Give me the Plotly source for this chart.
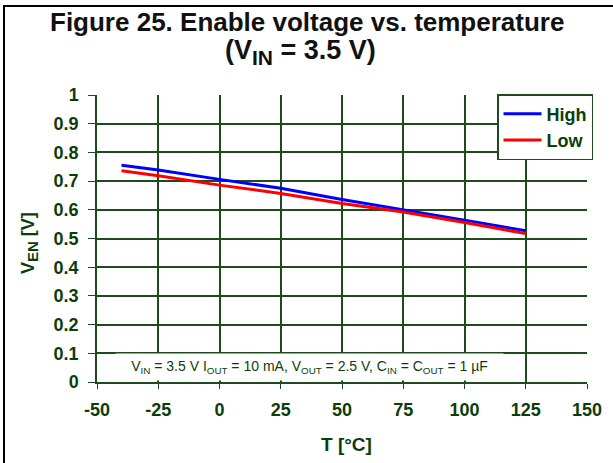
import plotly.graph_objects as go

temps = [-40, -25, 0, 25, 50, 75, 100, 125]
v_high = [0.755, 0.739, 0.706, 0.675, 0.636, 0.601, 0.564, 0.527]
v_low = [0.736, 0.719, 0.686, 0.657, 0.622, 0.592, 0.556, 0.517]
x_ticks = [-50, -25, 0, 25, 50, 75, 100, 125, 150]
y_ticks = [0, 0.1, 0.2, 0.3, 0.4, 0.5, 0.6, 0.7, 0.8, 0.9, 1]

GREEN = "#0b3d0b"
GRID = "#1f4a1f"
FONT = "Arial, Liberation Sans, sans-serif"

# plot area in pixels (for converting paper coords)
L, R, T, B = 97, 587, 95, 382
def px(x): return (x - L) / (R - L)
def py(y): return (B - y) / (B - T)

fig = go.Figure()
fig.add_trace(go.Scatter(x=temps, y=v_high, mode="lines", name="High", legendgroup="h",
                         line=dict(color="#0000ff", width=3)))
fig.add_trace(go.Scatter(x=temps, y=v_low, mode="lines", name="Low", legendgroup="l",
                         line=dict(color="#ff0000", width=3)))

fig.update_layout(
    width=613, height=463, autosize=False,
    margin=dict(l=L, r=613 - R, t=T, b=463 - B, autoexpand=False),
    paper_bgcolor="white", plot_bgcolor="white",
    font=dict(family=FONT, color=GREEN),
    xaxis=dict(range=[-50, 150], tickvals=x_ticks, ticktext=[str(v) for v in x_ticks],
               showgrid=True, gridcolor=GRID, gridwidth=1.5,
               showline=True, linecolor=GRID, linewidth=1.5,
               ticks="outside", ticklen=5, tickcolor=GRID, ticklabelstandoff=6,
               tickfont=dict(size=18, color=GREEN, weight="bold"), zeroline=False, automargin=False),
    yaxis=dict(range=[0, 1], tickvals=y_ticks, ticktext=[f"{v:g}" for v in y_ticks],
               showgrid=True, gridcolor=GRID, gridwidth=1.5,
               showline=True, linecolor=GRID, linewidth=1.5,
               ticks="outside", ticklen=7, tickcolor=GRID, ticklabelstandoff=6,
               tickfont=dict(size=18, color=GREEN, weight="bold"), zeroline=False, automargin=False),
    legend=dict(x=px(497), y=py(94), xanchor="left", yanchor="top",
                bgcolor="white", bordercolor=GRID, borderwidth=1.5,
                font=dict(size=18, color=GREEN, family=FONT, weight="bold"),
                itemwidth=38, tracegroupgap=0),
    showlegend=True,
)

# title lines
fig.add_annotation(x=px(306.5), xref="paper", xanchor="center", y=py(22), yref="paper", yanchor="middle",
                   text="<b>Figure 25. Enable voltage vs. temperature</b>", showarrow=False,
                   font=dict(size=26, color="#111111", family=FONT))
fig.add_annotation(x=px(300), xref="paper", xanchor="center", y=py(52), yref="paper", yanchor="middle",
                   text="<b>(V<sub><span style='font-size:21px'>IN</span></sub> = 3.5 V)</b>", showarrow=False,
                   font=dict(size=27, color="#111111", family=FONT))
# axis titles
fig.add_annotation(x=px(346), xref="paper", xanchor="center", y=py(444), yref="paper", yanchor="middle",
                   text="<b>T [°C]</b>", showarrow=False,
                   font=dict(size=19, color=GREEN, family=FONT))
fig.add_annotation(x=px(29), xref="paper", xanchor="center", y=py(243), yref="paper", yanchor="middle",
                   textangle=-90,
                   text="<b>V<sub><span style='font-size:15px'>EN</span></sub> [V]</b>", showarrow=False,
                   font=dict(size=18, color=GREEN, family=FONT))

fig.add_annotation(
    x=36.7, y=0.052, xref="x", yref="y",
    text="V<sub>IN</sub> = 3.5 V I<sub>OUT</sub> = 10 mA, V<sub>OUT</sub> = 2.5 V, C<sub>IN</sub> = C<sub>OUT</sub> = 1 µF",
    showarrow=False, font=dict(size=14, color=GREEN, family=FONT),
    bgcolor="white", width=387, height=26, borderpad=0,
)

# outer frame
fig.add_shape(type="rect", xref="paper", yref="paper",
              x0=px(4), x1=px(640), y0=py(480), y1=py(6),
              line=dict(color="black", width=2), fillcolor="rgba(0,0,0,0)", layer="above")

fig.write_html("out.html", config={"displayModeBar": False},
               post_script="document.body.style.margin='0';document.body.style.overflow='hidden';")
